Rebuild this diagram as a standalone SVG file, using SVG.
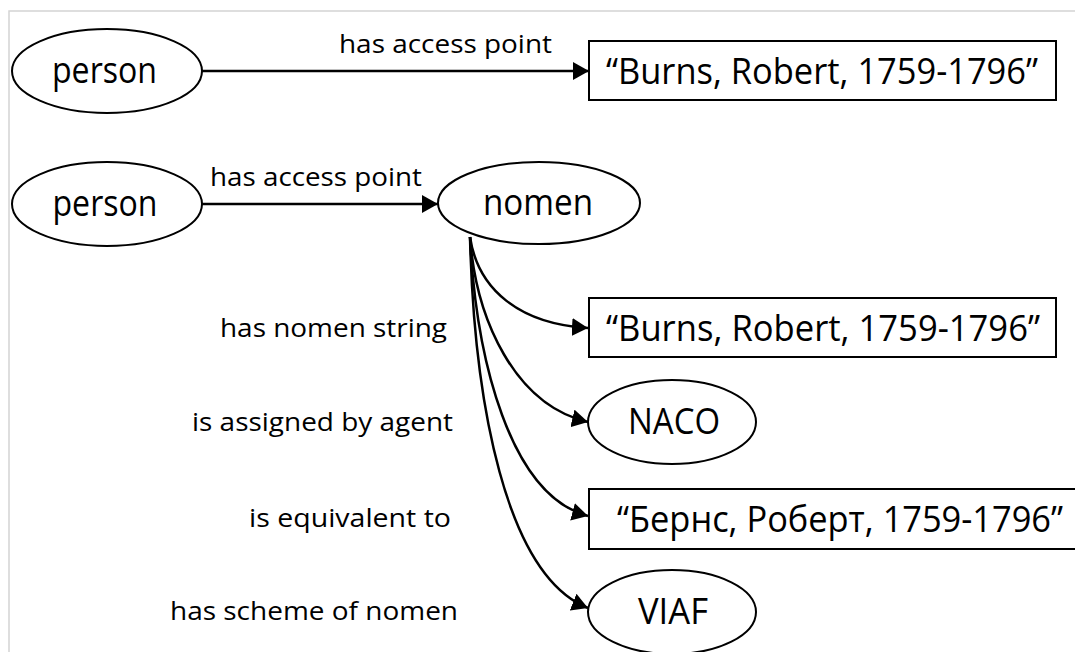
<svg xmlns="http://www.w3.org/2000/svg" width="1075" height="652" viewBox="0 0 1075 652">
<style>
.node{fill:#fff;stroke:#000;stroke-width:2}
.t{font-family:"Open Sans","Liberation Sans",sans-serif;font-size:37px;fill:#000;text-anchor:middle}
.l{font-family:"Open Sans","Liberation Sans",sans-serif;font-size:26px;fill:#000;text-anchor:middle}
.e{fill:none;stroke:#000;stroke-width:2.5;marker-end:url(#ah)}
.frame{stroke:#d4d4d4;stroke-width:1.5;fill:none}
</style>
<defs>
<marker id="ah" viewBox="0 0 16 18" refX="16" refY="9" markerWidth="16" markerHeight="18" markerUnits="userSpaceOnUse" orient="auto">
<path d="M0,0 L16,9 L0,18 z" fill="#000"/>
</marker>
</defs>
<rect width="1075" height="652" fill="#fff"/>
<path class="frame" d="M9,652 V11 H1075"/>
<g id="connectors">
<line class="e" x1="202" y1="71" x2="589" y2="71"/>
<line class="e" x1="202" y1="204" x2="438" y2="204"/>
<path class="e" d="M470,237 C478,290 520,324 588,328"/>
<path class="e" d="M470,237 C476,320 515,405 588,422"/>
<path class="e" d="M470,237 C476,360 510,495 588,516"/>
<path class="e" d="M470,237 C474,400 505,575 588,608"/>
<text class="l" x="445.5" y="53" textLength="213" lengthAdjust="spacingAndGlyphs">has access point</text>
<text class="l" x="316" y="186" textLength="212" lengthAdjust="spacingAndGlyphs">has access point</text>
<text class="l" x="333.5" y="337" textLength="227" lengthAdjust="spacingAndGlyphs">has nomen string</text>
<text class="l" x="322.5" y="431" textLength="261" lengthAdjust="spacingAndGlyphs">is assigned by agent</text>
<text class="l" x="350" y="527" textLength="202" lengthAdjust="spacingAndGlyphs">is equivalent to</text>
<text class="l" x="314" y="620" textLength="288" lengthAdjust="spacingAndGlyphs">has scheme of nomen</text>
</g>
<g id="person1">
<ellipse class="node" cx="107" cy="71" rx="95" ry="42"/>
<text class="t" x="104.5" y="83" textLength="105" lengthAdjust="spacingAndGlyphs">person</text>
</g>
<g id="string1">
<rect class="node" x="589" y="41" width="467" height="59"/>
<text class="t" x="822" y="84" textLength="432" lengthAdjust="spacingAndGlyphs">“Burns, Robert, 1759-1796”</text>
</g>
<g id="person2">
<ellipse class="node" cx="107" cy="204" rx="95" ry="42"/>
<text class="t" x="105" y="216" textLength="105" lengthAdjust="spacingAndGlyphs">person</text>
</g>
<g id="nomen">
<ellipse class="node" cx="539" cy="203" rx="101" ry="41"/>
<text class="t" x="538" y="215" textLength="110" lengthAdjust="spacingAndGlyphs">nomen</text>
</g>
<g id="string2">
<rect class="node" x="589" y="298" width="467" height="59"/>
<text class="t" x="823" y="341" textLength="434" lengthAdjust="spacingAndGlyphs">“Burns, Robert, 1759-1796”</text>
</g>
<g id="naco">
<ellipse class="node" cx="672" cy="422" rx="84" ry="42"/>
<text class="t" x="674" y="434" textLength="92" lengthAdjust="spacingAndGlyphs">NACO</text>
</g>
<g id="string3">
<rect class="node" x="589" y="489" width="500" height="60"/>
<text class="t" x="840" y="532" textLength="446" lengthAdjust="spacingAndGlyphs">“Бернс, Роберт, 1759-1796”</text>
</g>
<g id="viaf">
<ellipse class="node" cx="672" cy="612" rx="84" ry="42"/>
<text class="t" x="673" y="624" textLength="70" lengthAdjust="spacingAndGlyphs">VIAF</text>
</g>
</svg>
